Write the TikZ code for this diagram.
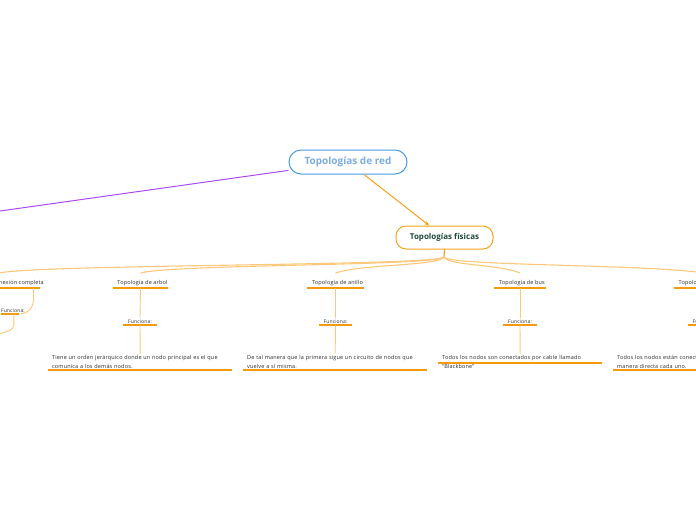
\documentclass[tikz,border=0pt]{standalone}
\usepackage{fontspec}
\setmainfont{Open Sans}
\newfontfamily\spacedf[LetterSpace=3]{Open Sans}
\usetikzlibrary{arrows.meta}
\definecolor{blueb}{HTML}{4A9BE0}
\definecolor{rootc}{HTML}{7AAEE0}
\definecolor{purp}{HTML}{A94BF2}
\definecolor{orm}{HTML}{F7A11B}
\definecolor{orline}{HTML}{F59A0C}
\definecolor{orl}{HTML}{FBC77A}
\definecolor{greent}{HTML}{1F4A3A}
\definecolor{txt}{HTML}{2B2B2B}
\begin{document}
\begin{tikzpicture}[x=1pt,y=-1pt,
  rootbox/.style={draw=blueb, line width=1pt, rounded corners=12pt, fill=white,
    minimum width=118pt, minimum height=24pt, inner sep=0pt,
    font=\bfseries\fontsize{10}{12}\selectfont, text=rootc},
  mainbox/.style={draw=orm, line width=1pt, rounded corners=10pt, fill=white,
    minimum width=97pt, minimum height=23pt, inner sep=0pt,
    font=\bfseries\fontsize{8}{10}\selectfont, text=greent},
  topic/.style={font=\spacedf\fontsize{5.5}{6.5}\selectfont, text=txt, inner xsep=0pt, inner ysep=1.5pt,
    execute at begin node={\hspace*{4.5pt}}, execute at end node={\hspace*{0.5pt}}},
  funcbox/.style={font=\spacedf\fontsize{5}{6}\selectfont, text=txt, inner xsep=4.5pt, inner ysep=1.5pt},
  descbox/.style={font=\spacedf\fontsize{5.5}{8.8}\selectfont, text=txt, align=left, inner xsep=4pt,
    inner ysep=1.5pt, anchor=south west},
  uline/.style={draw=orline, line width=2pt},
  fan/.style={draw=orl, line width=1.1pt},
  conn/.style={draw=orl, line width=0.9pt},
  purpline/.style={draw=purp, line width=1pt},
  arrowline/.style={draw=orm, line width=1pt, -{Stealth[length=5pt,width=4pt]}}
]
\useasboundingbox (0,0) rectangle (696,520);
\clip (0,0) rectangle (696,520);

% main nodes
\node[rootbox] (root) at (348,162) {Topologías de red};
\node[mainbox] (phys) at (444.5,237.5) {Topologías físicas};
\coordinate (lt) at (-10,212.4);
\draw[purpline] (root) -- (lt);
\draw[arrowline] (root) -- (phys);

% hub
\coordinate (hub) at (444,257);
\draw[draw=orm, line width=1.2pt] (phys.south) -- (hub);

% level-1 topics
\node[topic, anchor=south east] (c0) at (44.5,288) {Topología de conexión completa};
\node[topic, anchor=south] (c1) at (140.5,288) {Topología de arbol};
\node[topic, anchor=south] (c2) at (335.5,288) {Topología de anillo};
\node[topic, anchor=south] (c3) at (520,288) {Topología de bus};
\node[topic, anchor=south west] (c4) at (674,288) {Topología de estrella};
\draw[uline] (c0.south west) -- ([xshift=-5pt]c0.south east);
\foreach \n in {c1,c2,c3,c4}
  \draw[uline] (\n.south west) -- (\n.south east);

% fan curves
\draw[fan] (hub) .. controls +(-5,9) and +(45,-9) .. ([yshift=6pt]c0.north);
\draw[fan] (hub) .. controls +(-5,9) and +(32,-9) .. ([yshift=6pt]c1.north);
\draw[fan] (hub) .. controls +(-5,9) and +(25,-9) .. ([yshift=6pt]c2.north);
\draw[fan] (hub) .. controls +(5,9) and +(-20,-9) .. ([yshift=6pt]c3.north);
\draw[fan] (hub) .. controls +(5,9) and +(-60,-9) .. ([yshift=6pt]c4.north);

% Funciona nodes
\node[funcbox, anchor=south east, inner xsep=0pt] (f0) at (25,314) {Funciona:};
\node[funcbox, anchor=south] (f1) at (140,325) {Funciona:};
\node[funcbox, anchor=south] (f2) at (335.5,325) {Funciona:};
\node[funcbox, anchor=south] (f3) at (520,325) {Funciona:};
\node[funcbox, anchor=south west] (f4) at (688,325) {Funciona:};
\draw[uline] (f0.south west) -- ([xshift=-6pt]f0.south east);
\foreach \n in {f1,f2,f3,f4}
  \draw[uline] (\n.south west) -- (\n.south east);

% descriptions
\node[descbox, text width=176pt] (d1) at (48,370)
  {Tiene un orden jerárquico donde un nodo principal es el que\\comunica a los demás nodos.};
\node[descbox, text width=176pt] (d2) at (243,370)
  {De tal manera que la primera sigue un circuito de nodos que\\vuelve a sí misma.};
\node[descbox, text width=156pt] (d3) at (438,370)
  {Todos los nodos son conectados por cable llamado\\“Blackbone”};
\node[descbox, text width=176pt] (d4) at (613,370)
  {Todos los nodos están conectados de\\manera directa cada uno.};
\foreach \n in {d1,d2,d4}
  \draw[uline] (\n.south west) -- (\n.south east);
\draw[uline] ([yshift=7pt]d3.south west) -- ([yshift=7pt]d3.south east);

% vertical connectors
\draw[conn] ([xshift=-11pt]c0.south east) -- ++(0,11)
  .. controls +(0,9) and +(7,-1) .. ([xshift=-4pt]f0.south east);
\draw[conn] ([xshift=13pt]f0.south west) -- ++(0,11)
  .. controls +(0,6) and +(6,-3) .. ++(-14,9);
\foreach \i in {1,2,3}{
  \draw[conn] (c\i.south) -- (f\i.north);
  \draw[conn] (f\i.south) -- (d\i.north);
}
\end{tikzpicture}
\end{document}
